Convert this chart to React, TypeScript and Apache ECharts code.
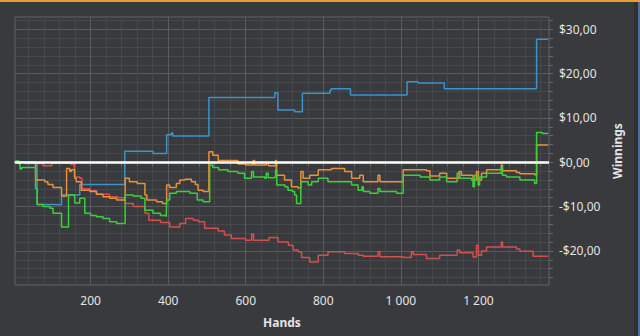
import { useEffect, useRef } from 'react';
import * as echarts from 'echarts';

// Tick labels
const xTickValues = [200, 400, 600, 800, 1000, 1200];
const yTickValues = [-20, -10, 0, 10, 20, 30];

// Series: [hand, cumulative winnings] (value holds from that hand on)
const blueSeries: [number, number][] = [
  [1, 0], [30, -0.3], [62, -9.5], [103, -9.6], [125, -7.4], [172, -5.0], [288, 2.5], [361, 2.0],
  [396, 6.2], [408, 6.6], [412, 5.95], [505, 14.6], [675, 15.7], [683, 11.8], [726, 11.4],
  [746, 15.6], [817, 16.2], [820, 16.6], [870, 15.2], [1016, 18.2], [1044, 17.9], [1112, 16.6],
  [1350, 27.8], [1380, 27.8],
];

const orangeSeries: [number, number][] = [
  [1, 0], [30, 0], [58, -4.0], [82, -4.4], [90, -5.0], [103, -5.7], [125, -7.6], [138, -1.4],
  [146, -2.1], [150, -1.7], [159, -3.6], [163, -4.4], [176, -6.3], [198, -6.6], [215, -7.2],
  [232, -7.8], [249, -8.1], [267, -8.5], [289, -3.6], [300, -4.4], [320, -4.8], [340, -7.4],
  [345, -8.5], [370, -8.9], [385, -9.3], [396, -5.1], [404, -5.7], [421, -4.8], [430, -4.0],
  [443, -3.8], [460, -4.4], [470, -5.0], [477, -6.3], [490, -6.6], [505, 2.4], [515, 1.6],
  [529, 0.4], [580, -0.4], [600, -0.6], [619, 0.4], [623, -0.6], [653, 0.0], [658, -0.8],
  [677, 0.4], [679, -2.9], [700, -4.0], [718, -5.5], [735, -5.8], [742, -2.1], [748, -3.6],
  [765, -2.9], [787, -1.7], [821, -1.4], [855, -2.1], [873, -3.6], [894, -2.9], [903, -4.4],
  [941, -2.9], [946, -4.4], [1006, -1.7], [1066, -1.9], [1075, -3.1], [1100, -2.5], [1118, -3.6],
  [1150, -2.1], [1156, -2.9], [1186, -4.0], [1195, -2.1], [1200, -4.0], [1208, -2.5],
  [1221, -1.7], [1259, -0.6], [1262, -1.9], [1298, -2.3], [1307, -2.6], [1345, -2.8],
  [1350, 3.9], [1380, 3.8],
];

const greenSeries: [number, number][] = [
  [1, 0], [7, 0.3], [15, -0.4], [18, -1.5], [22, -1.2], [58, -5.9], [62, -9.5], [77, -10.0],
  [95, -10.4], [103, -11.5], [125, -14.6], [143, -7.4], [159, -9.2], [172, -8.1], [185, -11.5],
  [200, -12.0], [215, -12.3], [232, -12.7], [249, -13.4], [267, -13.8], [289, -7.4], [310, -7.6],
  [330, -8.1], [340, -10.8], [361, -11.5], [380, -12.0], [395, -12.3], [396, -8.5], [404, -7.0],
  [421, -6.6], [456, -7.0], [475, -8.5], [490, -8.9], [507, -0.6], [515, -1.2], [530, -1.7],
  [554, -2.1], [580, -2.5], [597, -3.6], [615, -2.1], [620, -3.3], [649, -3.6], [653, -2.5],
  [658, -3.5], [675, -3.3], [677, -1.7], [680, -5.1], [701, -5.5], [709, -6.3], [720, -6.6],
  [726, -7.4], [731, -9.3], [742, -4.4], [761, -5.1], [770, -4.4], [787, -3.6], [812, -4.4],
  [873, -5.1], [890, -6.3], [900, -5.5], [903, -6.6], [920, -7.0], [941, -5.9], [946, -6.6],
  [989, -7.0], [1006, -2.9], [1023, -2.9], [1050, -3.3], [1075, -4.0], [1100, -3.3],
  [1118, -4.4], [1145, -2.5], [1152, -3.6], [1182, -4.0], [1186, -5.5], [1190, -2.9],
  [1199, -5.1], [1203, -3.3], [1221, -2.5], [1259, -1.0], [1262, -2.9], [1272, -3.3],
  [1307, -4.0], [1345, -4.8], [1350, 6.7], [1365, 6.5], [1380, 6.4],
];

const redSeries: [number, number][] = [
  [1, 0], [20, 0], [60, -0.3], [77, -0.8], [100, -0.2], [150, -0.5], [158, -3.3], [172, -3.6],
  [178, -6.0], [198, -6.4], [215, -7.2], [249, -7.8], [270, -8.0], [289, -9.3], [310, -10.0],
  [340, -11.5], [350, -13.1], [380, -13.6], [404, -14.6], [430, -13.8], [445, -12.7],
  [465, -13.1], [478, -13.4], [494, -14.9], [529, -15.5], [545, -16.4], [563, -17.2],
  [600, -17.6], [615, -16.2], [620, -17.6], [660, -17.0], [683, -18.0], [710, -18.7],
  [722, -19.8], [735, -20.2], [744, -21.5], [765, -22.5], [787, -21.0], [812, -20.2],
  [855, -20.6], [890, -21.0], [903, -21.2], [941, -20.2], [946, -21.3], [1006, -21.5],
  [1027, -20.2], [1032, -20.8], [1066, -21.7], [1100, -21.0], [1145, -19.8], [1152, -20.4],
  [1186, -21.4], [1195, -18.7], [1200, -21.0], [1208, -20.0], [1221, -19.1], [1259, -18.0],
  [1262, -19.1], [1298, -19.6], [1307, -20.1], [1341, -21.2], [1380, -21.3],
];

const X_MIN = 5;
const X_MAX = 1382;
const Y_MIN = -27.7;
const Y_MAX = 32.8;

const money = (v: number) =>
  (v < 0 ? '-' : '') + '$' + Math.abs(v).toFixed(2).replace('.', ',');
const thousands = (v: number) => String(v).replace(/\B(?=(\d{3})+(?!\d))/g, ' ');

function minorValues(start: number, end: number, step: number, majorStep: number) {
  const out: number[] = [];
  for (let v = start; v <= end + 1e-9; v += step) {
    const r = Math.round(v * 100) / 100;
    if (Math.abs(r % majorStep) > 1e-6) out.push(r);
  }
  return out;
}

export default function App() {
  const ref = useRef<HTMLDivElement>(null);
  useEffect(() => {
    const chart = echarts.init(ref.current!, null, { renderer: 'svg' });
    const font = 'Noto Sans';
    const textColor = '#e4e4e4';
    const majorGrid = '#595b5f';
    const minorGrid = '#46484b';
    const tickColor = '#66686b';
    const xMinor = minorValues(40, 1380, 40, 200);
    const yMinor = minorValues(-26, 32, 2, 10);

    const lineSeries = (data: [number, number][], color: string) => ({
      type: 'line',
      data,
      step: 'end',
      showSymbol: false,
      symbol: 'none',
      lineStyle: { color, width: 1.5 },
      itemStyle: { color },
      xAxisIndex: 0,
      yAxisIndex: 0,
      z: 3,
    });

    chart.setOption({
      animation: false,
      backgroundColor: '#383a3d',
      textStyle: { fontFamily: font },
      grid: {
        left: 15,
        right: 91,
        top: 17,
        bottom: 51,
        show: true,
        borderColor: '#606266',
        borderWidth: 1,
        backgroundColor: 'transparent',
      },
      xAxis: [
        {
          type: 'value',
          min: X_MIN,
          max: X_MAX,
          position: 'bottom',
          name: 'Hands',
          nameLocation: 'middle',
          nameGap: 31,
          nameTextStyle: { color: textColor, fontWeight: 'bold', fontSize: 12, fontFamily: font },
          axisLine: { show: false },
          axisTick: { show: true, customValues: xTickValues, length: 4, lineStyle: { color: tickColor } },
          axisLabel: {
            customValues: xTickValues,
            color: textColor,
            fontSize: 12,
            margin: 9,
            formatter: (v: number) => thousands(v),
          },
          splitLine: { show: true, lineStyle: { color: majorGrid, width: 1 } },
        },
        {
          type: 'value',
          min: X_MIN,
          max: X_MAX,
          position: 'bottom',
          axisLine: { show: false },
          axisTick: { show: true, customValues: xMinor, length: 4, lineStyle: { color: tickColor } },
          axisLabel: { show: false },
          splitLine: { show: true, lineStyle: { color: minorGrid, width: 1 } },
        },
      ],
      yAxis: [
        {
          type: 'value',
          min: Y_MIN,
          max: Y_MAX,
          position: 'right',
          name: 'Winnings',
          nameLocation: 'middle',
          nameRotate: 90,
          nameGap: 49,
          nameTextStyle: { color: textColor, fontWeight: 'bold', fontSize: 12, fontFamily: font },
          axisLine: { show: false },
          axisTick: { show: true, customValues: yTickValues, length: 4, lineStyle: { color: tickColor } },
          axisLabel: {
            customValues: yTickValues,
            color: textColor,
            fontSize: 12,
            margin: 10,
            formatter: (v: number) => money(v),
          },
          splitLine: { show: true, lineStyle: { color: majorGrid, width: 1 } },
        },
        {
          type: 'value',
          min: Y_MIN,
          max: Y_MAX,
          position: 'right',
          axisLine: { show: false },
          axisTick: { show: true, customValues: yMinor, length: 4, lineStyle: { color: tickColor } },
          axisLabel: { show: false },
          splitLine: { show: true, lineStyle: { color: minorGrid, width: 1 } },
        },
      ],
      series: [
        lineSeries(blueSeries, '#3b93cc'),
        lineSeries(redSeries, '#d2504e'),
        lineSeries(orangeSeries, '#e8913a'),
        lineSeries(greenSeries, '#3ccf3c'),
        {
          type: 'line',
          data: [],
          xAxisIndex: 0,
          yAxisIndex: 0,
          z: 10,
          markLine: {
            silent: true,
            symbol: 'none',
            label: { show: false },
            lineStyle: { color: '#ffffff', width: 2.5, type: 'solid' },
            data: [{ yAxis: 0 }],
          },
        },
      ],
      graphic: [
        { type: 'rect', left: 0, top: 0, shape: { width: 640, height: 2 }, style: { fill: '#e89d35' }, z: 100 },
        { type: 'rect', left: 634, top: 2, shape: { width: 4, height: 334 }, style: { fill: '#2e3033' }, z: 100 },
        { type: 'rect', left: 638, top: 2, shape: { width: 2, height: 334 }, style: { fill: '#4d6f9e' }, z: 100 },
      ],
    });
    return () => chart.dispose();
  }, []);
  return <div ref={ref} style={{ position: 'absolute', left: 0, top: 0, width: 640, height: 336 }} />;
}
